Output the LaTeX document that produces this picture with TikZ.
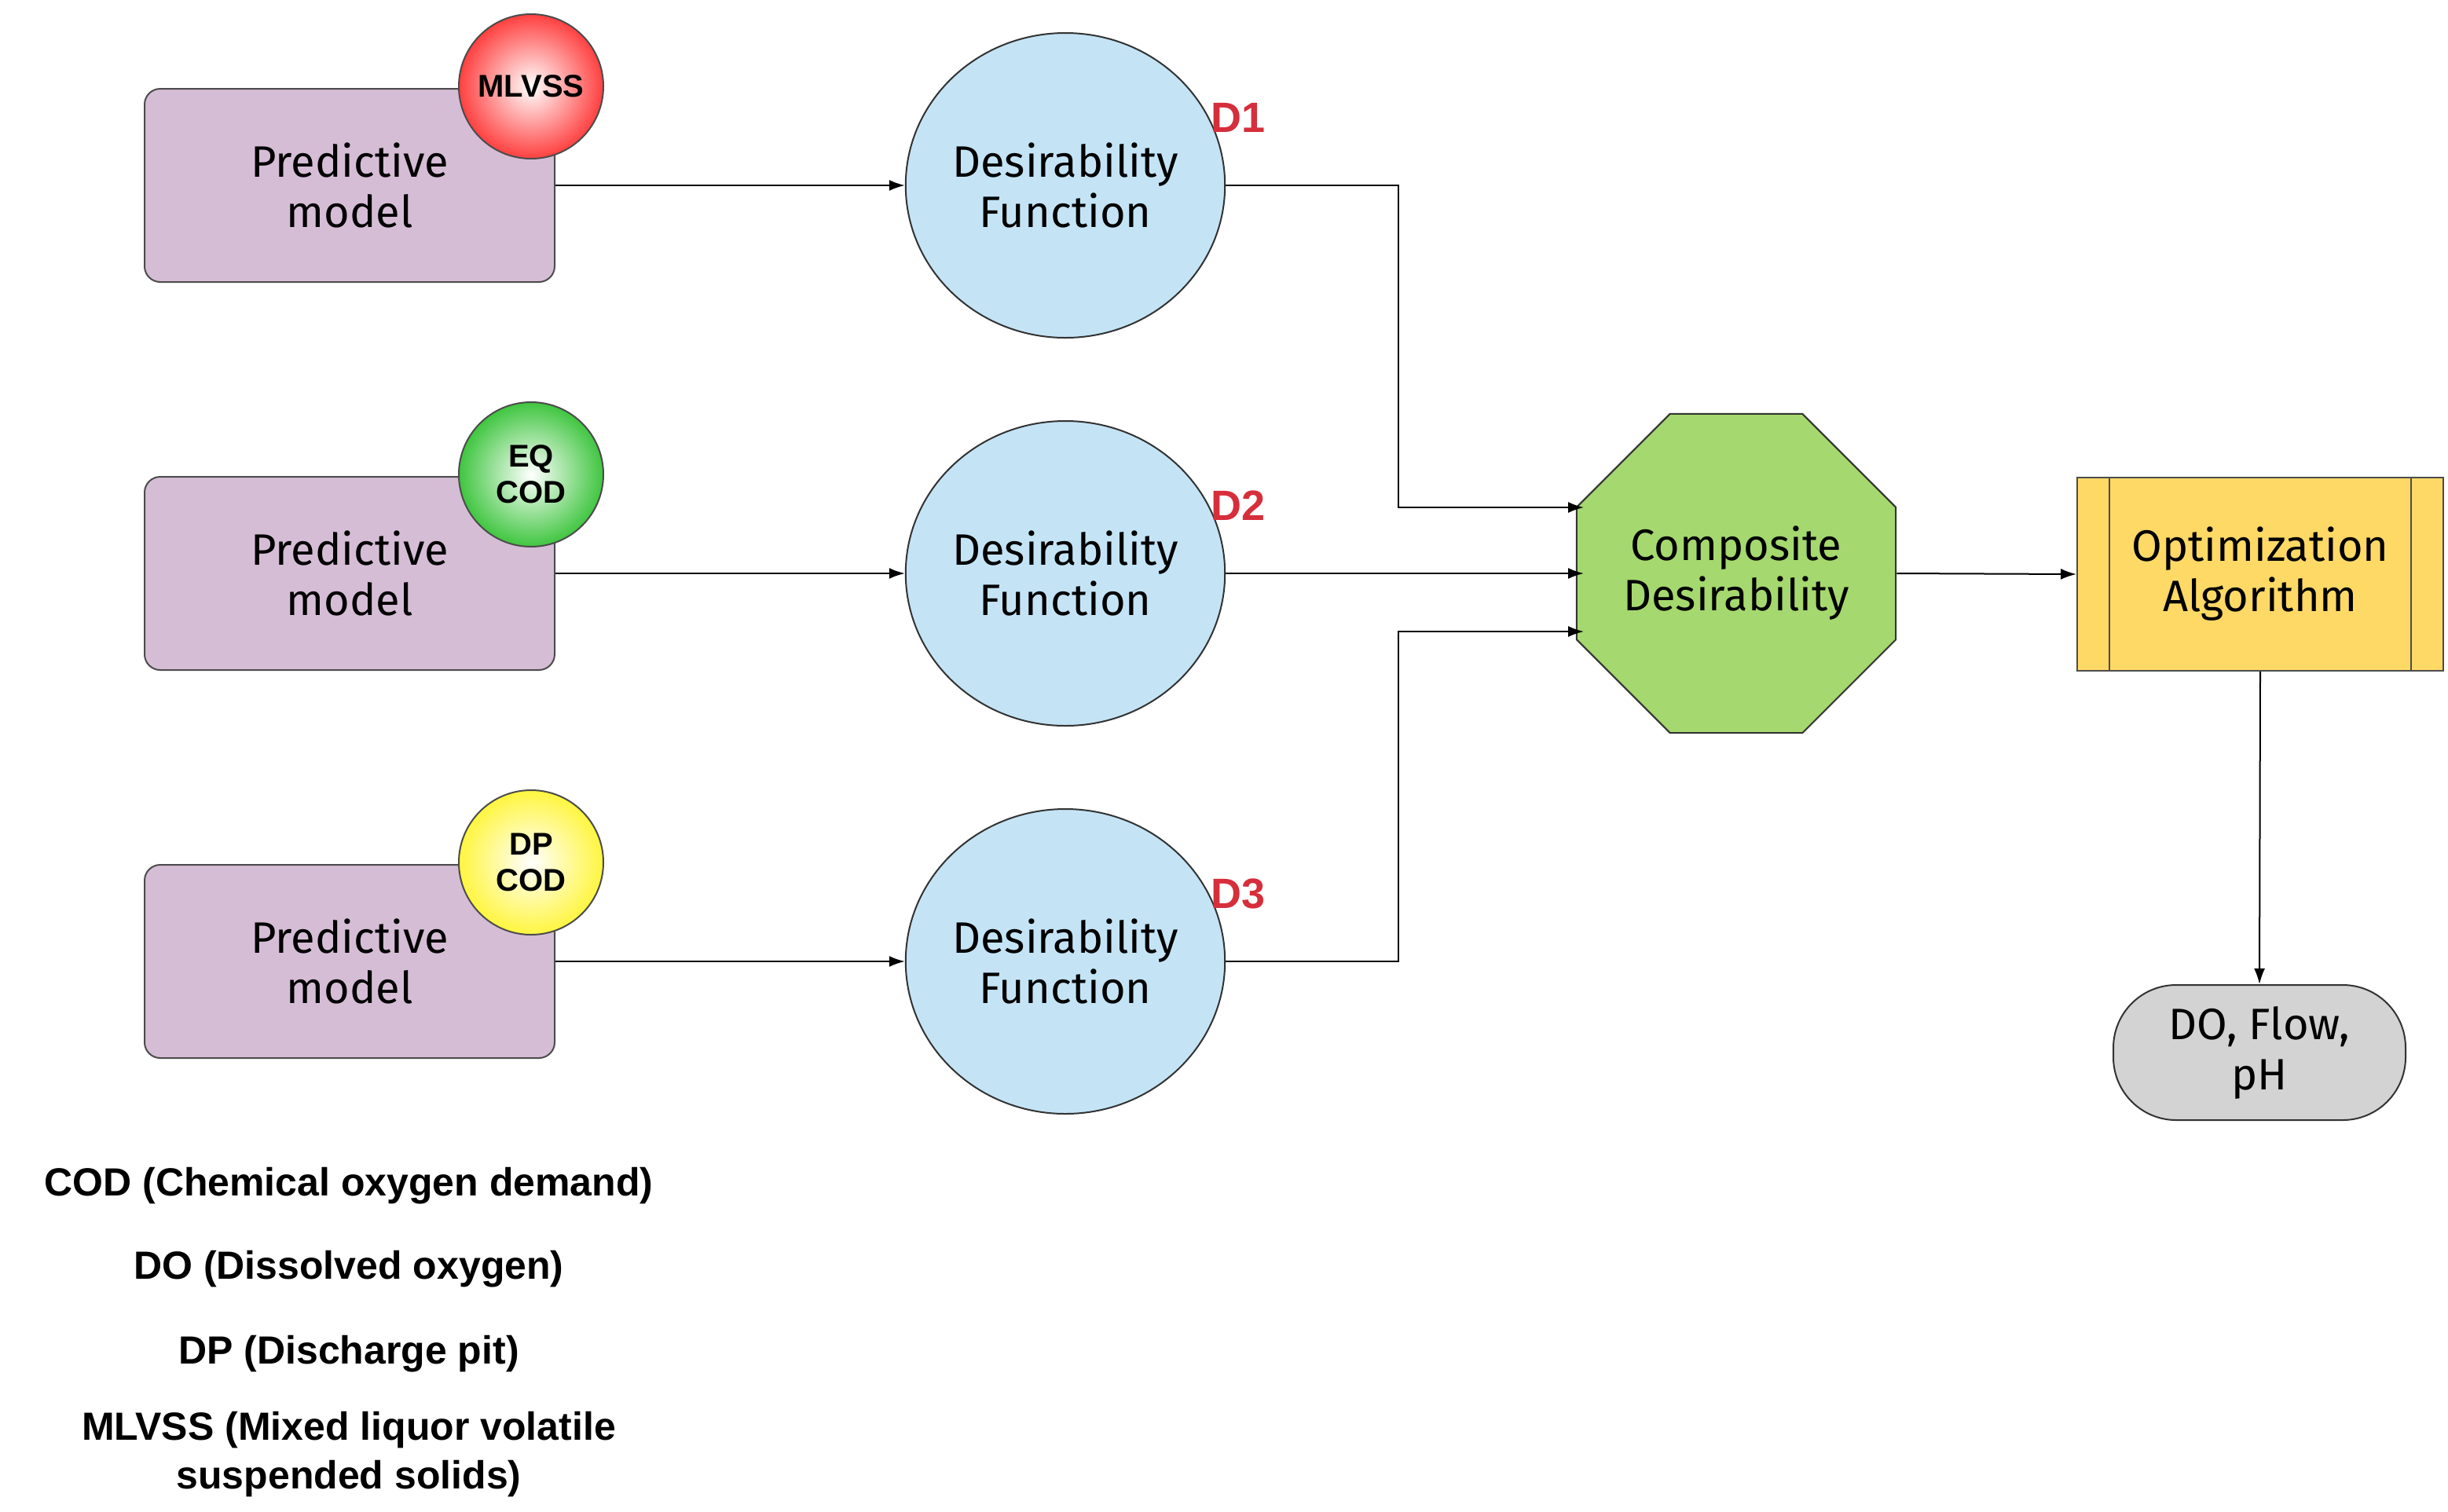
\documentclass[tikz,border=0pt]{standalone}
\usepackage{fontspec}
\setmainfont{Fira Sans}
\newfontfamily\legf{Liberation Sans}
\usetikzlibrary{shapes.geometric,arrows.meta}
\definecolor{pm}{HTML}{D6BDD6}
\definecolor{df}{HTML}{C4E4F6}
\definecolor{cd}{HTML}{A5D86E}
\definecolor{oa}{HTML}{FFD966}
\definecolor{og}{HTML}{D3D3D3}
\definecolor{dred}{HTML}{D62E3B}
\tikzset{
 pmod/.style={draw=black!70,line width=1pt,fill=pm,rounded corners=10pt,minimum width=261pt,minimum height=123pt,font=\fontsize{28}{32}\selectfont,align=center,inner sep=0},
 des/.style={draw=black!80,line width=1pt,fill=df,ellipse,minimum width=186pt,minimum height=194pt,font=\fontsize{28}{32}\selectfont,align=center,inner sep=0},
 badge/.style={circle,draw=black!70,line width=1pt,minimum size=92pt,inner sep=0,font=\legf\bfseries\fontsize{20}{23}\selectfont,align=center},
 dl/.style={text=dred,font=\legf\bfseries\fontsize{27}{30}\selectfont},
 arr/.style={-{Latex[length=10pt,width=7pt]},line width=1pt},
 leg/.style={font=\legf\bfseries\fontsize{25}{31}\selectfont,align=center}
}
\begin{document}
\begin{tikzpicture}[x=1pt,y=-1pt]
\useasboundingbox (0,0) rectangle (1558,962);
\foreach \i/\y/\c/\t in {1/118/red/MLVSS,2/365/green!70!black/EQ\\COD,3/612/yellow!90!orange/DP\\COD}{
 \node[pmod] (p\i) at (222.5,\y) {Predictive\\model};
 \node[badge,shading=radial,inner color=white,outer color=\c!75] (b\i) at (338,\y-63) {\t};
 \node[des] (d\i) at (678,\y) {Desirability\\Function};
 \node[dl] (l\i) at (788,\y-43) {D\i};
 \draw[arr] (p\i.east) -- (d\i.west);
}
\node[regular polygon,regular polygon sides=8,draw=black!80,line width=1pt,fill=cd,minimum size=211pt,inner sep=0,font=\fontsize{28}{32}\selectfont,align=center] (c) at (1105,365) {Composite\\Desirability};
\node[draw=black!70,line width=1pt,fill=oa,minimum width=233pt,minimum height=123pt,font=\fontsize{28}{32}\selectfont,align=center,inner sep=0] (o) at (1438.5,365.5) {Optimization\\Algorithm};
\draw[line width=1pt,black!70] ([xshift=21pt]o.north west) -- ([xshift=21pt]o.south west) ([xshift=-21pt]o.north east) -- ([xshift=-21pt]o.south east);
\node[draw=black!80,line width=1pt,fill=og,rounded corners=40pt,minimum width=186pt,minimum height=86pt,font=\fontsize{28}{32}\selectfont,align=center,inner sep=0] (r) at (1438,670) {DO, Flow,\\pH};
\coordinate (j1) at (890,118); \coordinate (j3) at (890,612);
\draw[arr] (d1.east) -- (j1) |- (1008,323);
\draw[arr] (d2.east) -- (1008,365);
\draw[arr] (d3.east) -- (j3) |- (1008,402);
\draw[arr] (c.east) -- (o.west);
\draw[arr] (o.south) -- (r.north);
\node[leg] (g1) at (222,755) {COD (Chemical oxygen demand)};
\node[leg] (g2) at (222,808) {DO (Dissolved oxygen)};
\node[leg] (g3) at (222,862) {DP (Discharge pit)};
\node[leg] (g4) at (222,926) {MLVSS (Mixed liquor volatile\\suspended solids)};
\end{tikzpicture}
\end{document}
